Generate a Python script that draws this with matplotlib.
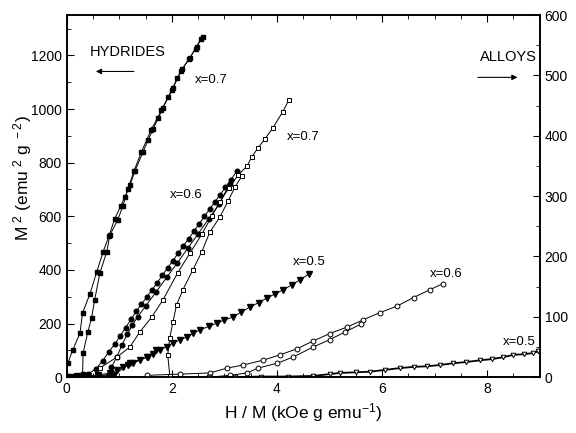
import numpy as np
import matplotlib
matplotlib.use("Agg")
import matplotlib.pyplot as plt
from matplotlib.ticker import MultipleLocator

plt.rcParams['font.family'] = ['Liberation Sans', 'DejaVu Sans']
plt.rcParams['mathtext.default'] = 'regular'

# hydrides (left axis, filled symbols)
hyd07a_x = [0.02, 0.11, 0.25, 0.30, 0.44, 0.57, 0.69, 0.80, 0.91, 1.03, 1.10, 1.20, 1.30, 1.45, 1.55,
            1.64, 1.74, 1.83, 1.93, 2.02, 2.10, 2.19, 2.34, 2.47, 2.59]
hyd07a_y = [52, 100, 164, 240, 310, 393, 467, 525, 590, 640, 670, 715, 770, 840, 885,
            925, 965, 1005, 1045, 1080, 1115, 1148, 1190, 1232, 1270]
hyd07b_x = [0.0, 0.1, 0.2, 0.3, 0.31, 0.4, 0.47, 0.53, 0.63, 0.76, 0.82, 0.97, 1.07, 1.16, 1.28,
            1.42, 1.60, 1.80, 2.00, 2.17, 2.32, 2.45, 2.55]
hyd07b_y = [3, 4, 6, 10, 90, 168, 220, 288, 389, 467, 530, 587, 640, 700, 770,
            840, 920, 995, 1070, 1140, 1185, 1225, 1262]

hyd06a_x = [0.0, 0.2, 0.4, 0.55, 0.68, 0.8, 0.92, 1.02, 1.12, 1.22, 1.32, 1.42, 1.52, 1.62, 1.72,
            1.82, 1.92, 2.02, 2.12, 2.22, 2.32, 2.42, 2.52, 2.62, 2.72, 2.82, 2.92, 3.02, 3.12, 3.24]
hyd06a_y = [2, 5, 12, 30, 60, 95, 125, 155, 185, 215, 245, 272, 298, 325, 352,
            380, 408, 435, 462, 490, 517, 544, 572, 600, 627, 654, 681, 708, 735, 770]
hyd06b_x = [0.3, 0.6, 0.8, 0.85, 0.95, 1.05, 1.15, 1.25, 1.35, 1.5, 1.7, 1.9, 2.1, 2.3, 2.5,
            2.7, 2.9, 3.1]
hyd06b_y = [2, 4, 10, 37, 75, 120, 160, 195, 225, 265, 318, 372, 425, 480, 535,
            590, 645, 722]

hyd05a_x = [0.0, 0.2, 0.4, 0.6, 0.82, 0.95, 1.07, 1.17, 1.26, 1.39, 1.52, 1.64, 1.77, 1.9, 2.02,
            2.15, 2.29, 2.41, 2.53, 2.7, 2.86, 3.0, 3.16, 3.32, 3.49, 3.65, 3.81, 3.96, 4.11, 4.28,
            4.44, 4.61]
hyd05a_y = [2, 3, 5, 8, 15, 26, 37, 45, 52, 63, 75, 88, 101, 114, 127,
            139, 150, 163, 176, 189, 202, 213, 224, 243, 262, 278, 295, 310, 325, 344,
            363, 385]
hyd05b_x = [0.3, 0.6, 0.9, 1.2, 1.54, 1.7]
hyd05b_y = [1, 3, 8, 52, 75, 100]

# alloys (right axis, open symbols)
all07a_x = [0.63, 0.95, 1.2, 1.39, 1.62, 1.83, 2.11, 2.34, 2.57, 2.76, 2.91, 3.08, 3.26, 3.43,
            3.52, 3.64, 3.77, 3.92, 4.11, 4.23]
all07a_y = [15, 33, 50, 75, 100, 128, 173, 205, 237, 267, 290, 313, 335, 350,
            365, 380, 395, 413, 440, 460]
all07b_x = [1.96, 1.92, 1.96, 2.02, 2.09, 2.21, 2.4, 2.57, 2.72, 2.91, 3.07, 3.2, 3.33]
all07b_y = [2, 37, 65, 92, 120, 145, 178, 208, 240, 265, 292, 315, 333]

all06a_x = [1.52, 2.15, 2.72, 3.05, 3.35, 3.73, 4.06, 4.38, 4.69, 5.0, 5.33, 5.64, 5.96, 6.29,
            6.6, 6.91, 7.16]
all06a_y = [3, 5, 7, 15, 20, 28, 37, 47, 60, 72, 83, 95, 107, 118, 132, 145, 155]
all06b_x = [2.72, 3.1, 3.43, 3.64, 4.0, 4.3, 4.69, 5.0, 5.3, 5.6]
all06b_y = [0, 3, 7, 15, 23, 33, 50, 62, 75, 88]

all05_x = [2.7, 3.2, 3.7, 4.2, 4.69, 5.0, 5.2, 5.5, 5.77, 6.05, 6.34, 6.6, 6.85, 7.1, 7.35,
           7.6, 7.87, 8.1, 8.3, 8.5, 8.7, 8.88, 8.97]
all05_y = [0, 0, 1, 1, 2, 5, 7, 8, 9, 12, 15, 17, 18, 20, 23,
           25, 28, 30, 33, 37, 38, 40, 43]

fig = plt.figure(figsize=(5.76, 4.33), dpi=100)
ax = fig.add_axes([0.116, 0.129, 0.821, 0.836])
ax2 = ax.twinx()

kw = dict(color='black', lw=0.7)
ax.plot(hyd07a_x, hyd07a_y, marker='s', ms=3.3, mfc='black', **kw)
ax.plot(hyd07b_x, hyd07b_y, marker='s', ms=3.3, mfc='black', **kw)
ax.plot(hyd06a_x, hyd06a_y, marker='o', ms=3.3, mfc='black', **kw)
ax.plot(hyd06b_x, hyd06b_y, marker='o', ms=3.3, mfc='black', **kw)
ax.plot(hyd05a_x, hyd05a_y, marker='v', ms=3.8, mfc='black', **kw)
ax.plot(hyd05b_x, hyd05b_y, marker='v', ms=3.8, mfc='black', **kw)

ax2.plot(all07a_x, all07a_y, marker='s', ms=3.5, mfc='white', mew=0.7, **kw)
ax2.plot(all07b_x, all07b_y, marker='s', ms=3.5, mfc='white', mew=0.7, **kw)
ax2.plot(all06a_x, all06a_y, marker='o', ms=3.5, mfc='white', mew=0.7, **kw)
ax2.plot(all06b_x, all06b_y, marker='o', ms=3.5, mfc='white', mew=0.7, **kw)
ax2.plot(all05_x, all05_y, marker='v', ms=3.3, mfc='white', mew=0.7, color='black', lw=1.3)

ax.set_xlim(0, 9)
ax.xaxis.set_major_locator(MultipleLocator(2))
ax.xaxis.set_minor_locator(MultipleLocator(0.5))
ax.set_yticks(range(0, 1400, 200))
ax.yaxis.set_minor_locator(MultipleLocator(100))
ax.set_ylim(0, 1350)
ax2.yaxis.set_major_locator(MultipleLocator(100))
ax2.yaxis.set_minor_locator(MultipleLocator(50))
ax2.set_ylim(0, 600)

ax.tick_params(which='both', direction='in', top=True, labelsize=10)
ax.tick_params(which='major', length=5)
ax.tick_params(which='minor', length=3)
ax2.tick_params(which='both', direction='in', labelsize=10)
ax2.tick_params(which='major', length=5)
ax2.tick_params(which='minor', length=3)
for a in (ax, ax2):
    for s in a.spines.values():
        s.set_linewidth(1.2)

ax.set_xlabel('H / M (kOe g emu$^{-1}$)', fontsize=12.5)
ax.set_ylabel('M$^{\\ 2}$ (emu$^{\\ 2}$ g$^{\\ -2}$)', fontsize=12.5, labelpad=-3)
ax.yaxis.set_label_coords(-0.07, 0.55)

ax.text(0.44, 1211, 'HYDRIDES', fontsize=10.5, va='center')
ax.annotate('', xy=(0.5, 1140), xytext=(1.33, 1140),
            arrowprops=dict(arrowstyle='-|>', color='black', lw=0.8, mutation_scale=8))
ax.text(7.87, 1193, 'ALLOYS', fontsize=10.5, va='center')
ax.annotate('', xy=(8.63, 1118), xytext=(7.77, 1118),
            arrowprops=dict(arrowstyle='-|>', color='black', lw=0.8, mutation_scale=8))

lbl = dict(fontsize=9.5, va='center')
ax.text(2.44, 1110, 'x=0.7', **lbl)
ax.text(4.19, 897, 'x=0.7', **lbl)
ax.text(1.96, 680, 'x=0.6', **lbl)
ax.text(4.3, 430, 'x=0.5', **lbl)
ax.text(6.91, 385, 'x=0.6', **lbl)
ax.text(8.29, 131, 'x=0.5', **lbl)

fig.savefig('out.png', dpi=100)
